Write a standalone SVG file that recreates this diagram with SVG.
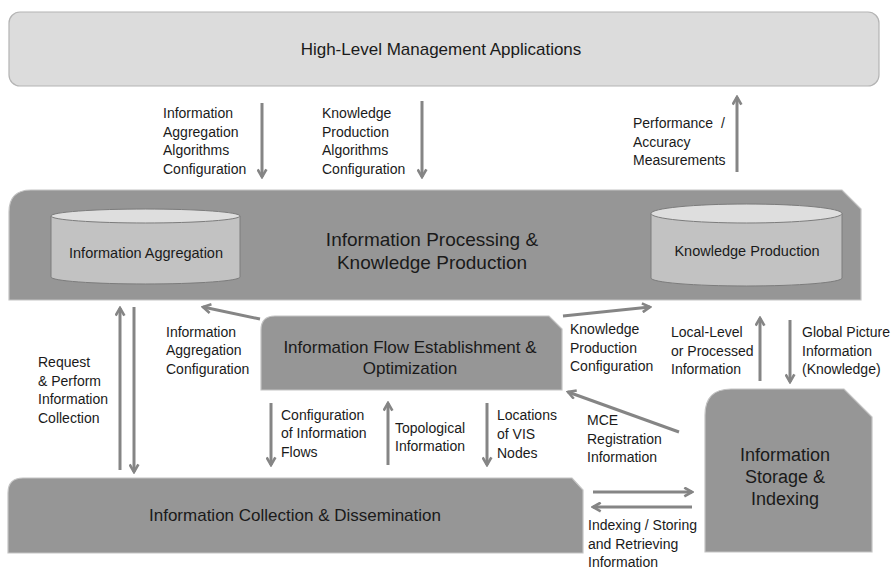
<svg xmlns="http://www.w3.org/2000/svg" width="894" height="570" viewBox="0 0 894 570">
<defs>
<style>
text{font-family:"Liberation Sans",Arial,sans-serif;fill:#1a1a1a}
.lbl{font-size:14px}
.dark{fill:#969696;stroke:#c4c4c4;stroke-width:1.2}
.cylb{fill:#c2c2c2;stroke:#7c7c7c;stroke-width:1}
.cylt{fill:#dedede;stroke:#7c7c7c;stroke-width:1}
.arr{stroke:#858585;stroke-width:3;fill:none;marker-end:url(#ah)}
</style>
<marker id="ah" viewBox="0 0 10 10" refX="8.5" refY="5" markerWidth="11" markerHeight="11" markerUnits="userSpaceOnUse" orient="auto">
<path d="M1.5,1 L8.5,5 L1.5,9" fill="none" stroke="#858585" stroke-width="2.4" stroke-linejoin="miter"/>
</marker>
</defs>

<g id="high-level">
<rect x="9" y="12" width="870" height="74" rx="11" fill="#dcdcdc" stroke="#b4b4b4" stroke-width="1.2"/>
<text x="441" y="55" font-size="17" text-anchor="middle">High-Level Management Applications</text>
</g>

<g id="processing">
<path class="dark" d="M9,300 V212 Q9,190 31,190 H842 L861,209 V300 Z"/>
<text x="432" y="246" font-size="19" text-anchor="middle">Information Processing &amp;</text>
<text x="432" y="269" font-size="19" text-anchor="middle">Knowledge Production</text>
</g>

<g id="aggregation">
<path class="cylb" d="M51,216 V277 A94.5,7 0 0 0 240,277 V216 Z"/>
<ellipse class="cylt" cx="145.5" cy="216" rx="94.5" ry="7"/>
<text x="146" y="258" font-size="14.5" text-anchor="middle">Information Aggregation</text>
</g>

<g id="knowledge">
<path class="cylb" d="M651,213.5 V278 A95.5,8 0 0 0 842,278 V213.5 Z"/>
<ellipse class="cylt" cx="746.5" cy="213.5" rx="95.5" ry="9.5"/>
<text x="747" y="256" font-size="14.5" text-anchor="middle">Knowledge Production</text>
</g>

<g id="flow">
<path class="dark" d="M261,390 V330 Q261,316 275,316 H549 L562,329 V390 Z"/>
<text x="410" y="353" font-size="17" text-anchor="middle">Information Flow Establishment &amp;</text>
<text x="410" y="374" font-size="17" text-anchor="middle">Optimization</text>
</g>

<g id="storage">
<path class="dark" d="M705,552 V415 Q705,389 731,389 H844 L872,417 V552 Z"/>
<text x="785" y="461" font-size="18" text-anchor="middle">Information</text>
<text x="785" y="483" font-size="18" text-anchor="middle">Storage &amp;</text>
<text x="785" y="505" font-size="18" text-anchor="middle">Indexing</text>
</g>

<g id="collection">
<path class="dark" d="M8,553 V493 Q8,478 23,478 H572 L583,490 V553 Z"/>
<text x="295" y="521" font-size="17" text-anchor="middle">Information Collection &amp; Dissemination</text>
</g>

<g id="connectors">
<line class="arr" x1="262" y1="103" x2="262" y2="177"/>
<line class="arr" x1="422" y1="101" x2="422" y2="177"/>
<line class="arr" x1="737" y1="172" x2="737" y2="97"/>
<line class="arr" x1="120" y1="470" x2="120" y2="308"/>
<line class="arr" x1="134" y1="307" x2="134" y2="472"/>
<line class="arr" x1="260" y1="319" x2="203" y2="307"/>
<line class="arr" x1="563" y1="316" x2="650" y2="307"/>
<line class="arr" x1="679" y1="432" x2="568" y2="392"/>
<line class="arr" x1="271" y1="403" x2="271" y2="465"/>
<line class="arr" x1="388" y1="465" x2="388" y2="403"/>
<line class="arr" x1="487" y1="403" x2="487" y2="465"/>
<line class="arr" x1="760" y1="381" x2="760" y2="318"/>
<line class="arr" x1="790" y1="320" x2="790" y2="382"/>
<line class="arr" x1="593" y1="492" x2="692" y2="492"/>
<line class="arr" x1="692" y1="507" x2="593" y2="507"/>
</g>

<g id="labels" class="lbl">
<text x="163" y="118">Information</text>
<text x="163" y="137">Aggregation</text>
<text x="163" y="155">Algorithms</text>
<text x="163" y="174">Configuration</text>
<text x="322" y="118">Knowledge</text>
<text x="322" y="137">Production</text>
<text x="322" y="155">Algorithms</text>
<text x="322" y="174">Configuration</text>
<text x="633" y="128" xml:space="preserve">Performance  /</text>
<text x="633" y="147">Accuracy</text>
<text x="633" y="165">Measurements</text>
<text x="38" y="367">Request</text>
<text x="38" y="386">&amp; Perform</text>
<text x="38" y="404">Information</text>
<text x="38" y="423">Collection</text>
<text x="166" y="337">Information</text>
<text x="166" y="355">Aggregation</text>
<text x="166" y="374">Configuration</text>
<text x="570" y="334">Knowledge</text>
<text x="570" y="353">Production</text>
<text x="570" y="371">Configuration</text>
<text x="671" y="337">Local-Level</text>
<text x="671" y="356">or Processed</text>
<text x="671" y="374">Information</text>
<text x="802" y="337">Global Picture</text>
<text x="802" y="356">Information</text>
<text x="802" y="374">(Knowledge)</text>
<text x="587" y="425">MCE</text>
<text x="587" y="444">Registration</text>
<text x="587" y="462">Information</text>
<text x="281" y="420">Configuration</text>
<text x="281" y="438">of Information</text>
<text x="281" y="457">Flows</text>
<text x="395" y="433">Topological</text>
<text x="395" y="451">Information</text>
<text x="497" y="420">Locations</text>
<text x="497" y="439">of VIS</text>
<text x="497" y="458">Nodes</text>
<text x="588" y="530">Indexing / Storing</text>
<text x="588" y="549">and Retrieving</text>
<text x="588" y="567">Information</text>
</g>
</svg>
